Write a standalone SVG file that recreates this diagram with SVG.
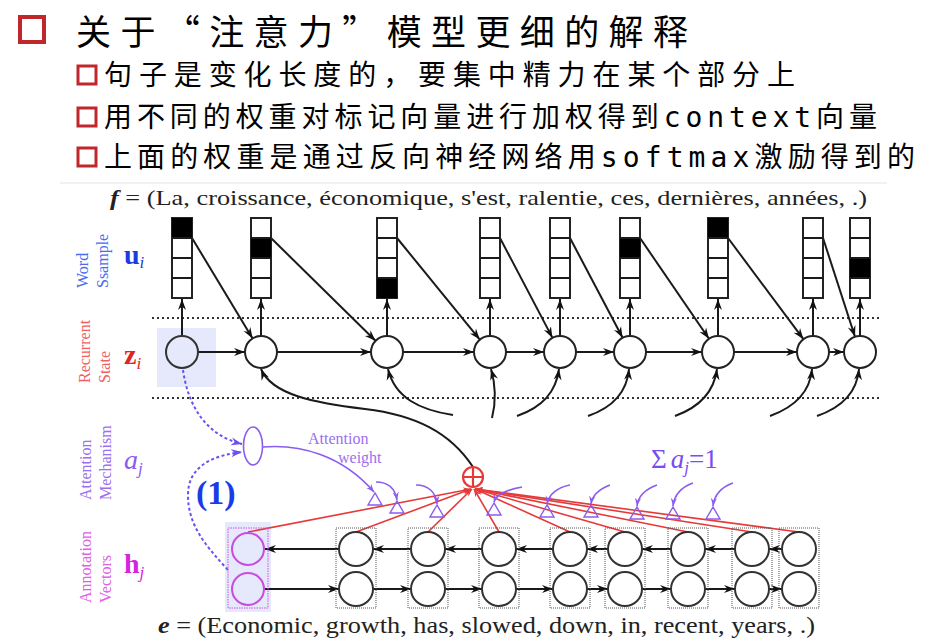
<svg xmlns="http://www.w3.org/2000/svg" width="926" height="642" viewBox="0 0 926 642">
<style>
.cjk{font-family:"Noto Sans CJK SC","Noto Sans",sans-serif;fill:#000}
.mono{font-family:"DejaVu Sans Mono","Liberation Mono",monospace}
.serif{font-family:"Liberation Serif","Times New Roman",serif}
.bul{fill:none;stroke:#c0262b;stroke-width:3}
.cell{fill:#fff;stroke:#222;stroke-width:2}
.fill{fill:#000}
.zc{fill:#fff;stroke:#222;stroke-width:2}
.hc{fill:#fff;stroke:#333;stroke-width:2}
.ln{stroke:#1a1a1a;stroke-width:2;fill:none}
.dot{stroke:#333;stroke-width:2.2;stroke-dasharray:2 3}
.red{stroke:#e63a3a;stroke-width:1.6;fill:none}
.pur{stroke:#8a5cf0;stroke-width:1.6;fill:none}
.dash{stroke:#6a50ee;stroke-width:2;stroke-dasharray:3 2.5;fill:none}
.hbox{fill:none;stroke:#555;stroke-width:1;stroke-dasharray:1 1}
.tri{fill:none;stroke:#8a5cf0;stroke-width:1.4}
</style>
<defs>
<marker id="ab" viewBox="0 0 12 10" refX="11" refY="5" markerWidth="12" markerHeight="10" markerUnits="userSpaceOnUse" orient="auto"><path d="M0,1 L11,5 L0,9 L3.5,5 z" fill="#111"/></marker>
<marker id="ap" viewBox="0 0 10 8" refX="9" refY="4" markerWidth="9" markerHeight="8" markerUnits="userSpaceOnUse" orient="auto"><path d="M0,0.5 L9,4 L0,7.5 L3,4 z" fill="#8a5cf0"/></marker>
<marker id="ad" viewBox="0 0 12 10" refX="11" refY="5" markerWidth="12" markerHeight="10" markerUnits="userSpaceOnUse" orient="auto"><path d="M0,1 L11,5 L0,9 L3.5,5 z" fill="#6a50ee"/></marker>
<marker id="ar" viewBox="0 0 10 8" refX="9" refY="4" markerWidth="9" markerHeight="7" markerUnits="userSpaceOnUse" orient="auto"><path d="M0,0.5 L9,4 L0,7.5 L3,4 z" fill="#e63a3a"/></marker>
</defs>

<g id="title">
<rect class="bul" x="20" y="17" width="24" height="25" style="stroke-width:4"/>
<text class="cjk" x="76" y="45" font-size="35" textLength="612" lengthAdjust="spacing">关于“注意力”模型更细的解释</text>
</g>
<g id="bullets">
<rect class="bul" x="78" y="66" width="18" height="18"/>
<text class="cjk" x="104" y="85" font-size="28" textLength="691" lengthAdjust="spacing">句子是变化长度的，要集中精力在某个部分上</text>
<rect class="bul" x="78" y="108" width="18" height="18"/>
<text class="cjk" x="104" y="127" font-size="28" textLength="773" lengthAdjust="spacing">用不同的权重对标记向量进行加权得到<tspan class="mono">context</tspan>向量</text>
<rect class="bul" x="78" y="148" width="18" height="18"/>
<text class="cjk" x="104" y="167" font-size="28" textLength="811" lengthAdjust="spacing">上面的权重是通过反向神经网络用<tspan class="mono">softmax</tspan>激励得到的</text>
</g>

<line x1="60" y1="183" x2="887" y2="183" stroke="#ececec" stroke-width="1.5"/>
<text id="f-sentence" class="serif" x="110" y="205" font-size="22" fill="#222" textLength="757" lengthAdjust="spacingAndGlyphs"><tspan font-weight="bold" font-style="italic">f</tspan> = (La, croissance, économique, s'est, ralentie, ces, dernières, années, .)</text>

<g id="row-labels" class="serif" font-size="16">
<text transform="translate(88,288) rotate(-90)" fill="#4a6cf0">Word</text>
<text transform="translate(108,288) rotate(-90)" fill="#4a6cf0">Ssample</text>
<text x="124" y="264" font-size="28" font-weight="bold" fill="#1a3ce0">u<tspan font-size="17" font-style="italic" font-weight="normal" dy="4">i</tspan></text>
<text transform="translate(90,383) rotate(-90)" fill="#f06060">Recurrent</text>
<text transform="translate(110,383) rotate(-90)" fill="#f06060">State</text>
<text x="124" y="364" font-size="28" font-weight="bold" fill="#e02424">z<tspan font-size="17" font-style="italic" font-weight="normal" dy="5">i</tspan></text>
<text transform="translate(91,500) rotate(-90)" fill="#9a70f0">Attention</text>
<text transform="translate(111,500) rotate(-90)" fill="#9a70f0">Mechanism</text>
<text x="124" y="469" font-size="28" font-style="italic" fill="#8a5cf0">a<tspan font-size="17" dy="5">j</tspan></text>
<text transform="translate(91,603) rotate(-90)" fill="#e060e8">Annotation</text>
<text transform="translate(111,603) rotate(-90)" fill="#e060e8">Vectors</text>
<text x="124" y="573" font-size="28" font-weight="bold" fill="#d424e0">h<tspan font-size="17" font-style="italic" font-weight="normal" dy="5">j</tspan></text>
</g>

<rect x="157" y="328" width="59" height="59" fill="#e6e8fb"/>
<rect x="225" y="522" width="46" height="90" fill="#e6e8fb"/>

<line class="dot" x1="152" y1="318" x2="882" y2="318"/>
<line class="dot" x1="152" y1="398" x2="882" y2="398"/>

<g id="connectors">
<g class="ln" marker-end="url(#ab)">
<line x1="182" y1="336" x2="182" y2="299"/>
<line x1="261" y1="336" x2="261" y2="299"/>
<line x1="387" y1="336" x2="387" y2="299"/>
<line x1="490" y1="336" x2="490" y2="299"/>
<line x1="560" y1="336" x2="560" y2="299"/>
<line x1="630" y1="336" x2="630" y2="299"/>
<line x1="718" y1="336" x2="718" y2="299"/>
<line x1="813" y1="336" x2="813" y2="299"/>
<line x1="860" y1="336" x2="860" y2="299"/>
<line x1="192" y1="238" x2="252.6" y2="338.4"/>
<line x1="271" y1="238" x2="375.5" y2="340.8"/>
<line x1="397" y1="238" x2="479.8" y2="339.6"/>
<line x1="500" y1="238" x2="552.5" y2="337.9"/>
<line x1="570" y1="238" x2="622.6" y2="337.8"/>
<line x1="640" y1="238" x2="709" y2="338.8"/>
<line x1="728" y1="238" x2="803.4" y2="339.2"/>
<line x1="823" y1="238" x2="855" y2="336.8"/>
<line x1="198" y1="352" x2="245" y2="352"/>
<line x1="277" y1="352" x2="371" y2="352"/>
<line x1="403" y1="352" x2="474" y2="352"/>
<line x1="506" y1="352" x2="544" y2="352"/>
<line x1="576" y1="352" x2="614" y2="352"/>
<line x1="646" y1="352" x2="702" y2="352"/>
<line x1="734" y1="352" x2="797" y2="352"/>
<line x1="829" y1="352" x2="844" y2="352"/>
<path d="M473,467 C450,432 415,415 365,409 C315,403 272,395 261,369"/>
<path d="M453,415 C420,410 395,398 388,369"/>
<path d="M492,418 C496,402 496,386 491,369"/>
<path d="M517,416 C543,407 556,392 559,369"/>
<path d="M588,416 C614,407 627,392 629,369"/>
<path d="M675,416 C700,407 714,392 717,369"/>
<path d="M770,416 C795,407 810,392 812,369"/>
<path d="M817,416 C843,407 857,392 859,369"/>
<line x1="782" y1="549" x2="769" y2="549"/>
<line x1="735" y1="549" x2="705" y2="549"/>
<line x1="671" y1="549" x2="642" y2="549"/>
<line x1="608" y1="549" x2="587" y2="549"/>
<line x1="553" y1="549" x2="516" y2="549"/>
<line x1="482" y1="549" x2="445" y2="549"/>
<line x1="411" y1="549" x2="373" y2="549"/>
<line x1="339" y1="549" x2="265" y2="549"/>
<line x1="265" y1="589" x2="339" y2="589"/>
<line x1="373" y1="589" x2="411" y2="589"/>
<line x1="445" y1="589" x2="482" y2="589"/>
<line x1="516" y1="589" x2="553" y2="589"/>
<line x1="587" y1="589" x2="608" y2="589"/>
<line x1="642" y1="589" x2="671" y2="589"/>
<line x1="705" y1="589" x2="735" y2="589"/>
<line x1="769" y1="589" x2="782" y2="589"/>
</g>
<g class="red" marker-end="url(#ar)">
<line x1="248" y1="532" x2="471" y2="489"/>
<line x1="356" y1="532" x2="471" y2="489"/>
<line x1="428" y1="532" x2="472" y2="489"/>
<line x1="499" y1="532" x2="474" y2="489"/>
<line x1="570" y1="532" x2="475" y2="489"/>
<line x1="625" y1="532" x2="475" y2="489"/>
<line x1="688" y1="532" x2="475" y2="489"/>
<line x1="752" y1="532" x2="475" y2="489"/>
<line x1="799" y1="532" x2="475" y2="489"/>
</g>
<g class="pur" marker-end="url(#ap)">
<path d="M263,447 C300,444 342,455 374,492"/>
<path d="M376,482 C388,482 395,488 397,500"/>
<path d="M416,485 C428,485 436,492 437,504"/>
<path d="M522,487 C505,490 496,495 494,502"/>
<path d="M570,485 C555,488 549,495 547,504"/>
<path d="M610,485 C597,490 592,497 591,504"/>
<path d="M657,485 C643,490 638,498 637,506"/>
<path d="M693,483 C679,488 674,497 673,506"/>
<path d="M733,483 C719,488 714,497 713,506"/>
</g>
<g class="tri">
<path d="M375,493 l-7,12 h14 z"/>
<path d="M397,501 l-7,12 h14 z"/>
<path d="M437,505 l-7,12 h14 z"/>
<path d="M494,503 l-7,12 h14 z"/>
<path d="M547,505 l-7,12 h14 z"/>
<path d="M591,505 l-7,12 h14 z"/>
<path d="M637,507 l-7,12 h14 z"/>
<path d="M673,507 l-7,12 h14 z"/>
<path d="M713,507 l-7,12 h14 z"/>
</g>
<path class="dash" d="M183,370 C188,405 205,435 242,444" marker-end="url(#ad)"/>
<path class="dash" d="M228,570 C205,545 188,525 188,495 C188,465 215,455 242,452" marker-end="url(#ad)"/>
</g>

<g id="word-samples">
<g id="u1"><rect class="cell" x="172" y="218" width="20" height="80"/><rect class="fill" x="172" y="218" width="20" height="20"/><path class="ln" d="M172,238h20M172,258h20M172,278h20"/></g>
<g id="u2"><rect class="cell" x="251" y="218" width="20" height="80"/><rect class="fill" x="251" y="238" width="20" height="20"/><path class="ln" d="M251,238h20M251,258h20M251,278h20"/></g>
<g id="u3"><rect class="cell" x="377" y="218" width="20" height="80"/><rect class="fill" x="377" y="278" width="20" height="20"/><path class="ln" d="M377,238h20M377,258h20M377,278h20"/></g>
<g id="u4"><rect class="cell" x="480" y="218" width="20" height="80"/><path class="ln" d="M480,238h20M480,258h20M480,278h20"/></g>
<g id="u5"><rect class="cell" x="550" y="218" width="20" height="80"/><path class="ln" d="M550,238h20M550,258h20M550,278h20"/></g>
<g id="u6"><rect class="cell" x="620" y="218" width="20" height="80"/><rect class="fill" x="620" y="238" width="20" height="20"/><path class="ln" d="M620,238h20M620,258h20M620,278h20"/></g>
<g id="u7"><rect class="cell" x="708" y="218" width="20" height="80"/><rect class="fill" x="708" y="218" width="20" height="20"/><path class="ln" d="M708,238h20M708,258h20M708,278h20"/></g>
<g id="u8"><rect class="cell" x="803" y="218" width="20" height="80"/><path class="ln" d="M803,238h20M803,258h20M803,278h20"/></g>
<g id="u9"><rect class="cell" x="850" y="218" width="20" height="80"/><rect class="fill" x="850" y="258" width="20" height="20"/><path class="ln" d="M850,238h20M850,258h20M850,278h20"/></g>
</g>

<g id="recurrent-states">
<g id="z1"><circle cx="182" cy="352" r="16" fill="none" stroke="#333" stroke-width="2"/></g>
<g id="z2"><circle class="zc" cx="261" cy="352" r="16"/></g>
<g id="z3"><circle class="zc" cx="387" cy="352" r="16"/></g>
<g id="z4"><circle class="zc" cx="490" cy="352" r="16"/></g>
<g id="z5"><circle class="zc" cx="560" cy="352" r="16"/></g>
<g id="z6"><circle class="zc" cx="630" cy="352" r="16"/></g>
<g id="z7"><circle class="zc" cx="718" cy="352" r="16"/></g>
<g id="z8"><circle class="zc" cx="813" cy="352" r="16"/></g>
<g id="z9"><circle class="zc" cx="860" cy="352" r="16"/></g>
</g>

<g id="attention-node"><ellipse cx="253" cy="446" rx="9.5" ry="19" fill="#fff" stroke="#8a5cf0" stroke-width="1.6"/></g>
<g id="sum-node">
<circle cx="473" cy="477" r="10" fill="#fff" stroke="#e63a3a" stroke-width="2.2"/>
<path d="M463,477h20M473,467v20" stroke="#e63a3a" stroke-width="2.2"/>
</g>

<g id="annotations">
<g id="h1"><rect x="228" y="528" width="40" height="80" fill="none" stroke="#cc55dd" stroke-width="1" stroke-dasharray="1.5 1"/><circle cx="248" cy="549" r="16" fill="none" stroke="#c84ce0" stroke-width="2"/><circle cx="248" cy="589" r="16" fill="none" stroke="#c84ce0" stroke-width="2"/></g>
<g id="h2"><rect class="hbox" x="336" y="528" width="40" height="80"/><circle class="hc" cx="356" cy="549" r="17"/><circle class="hc" cx="356" cy="589" r="17"/></g>
<g id="h3"><rect class="hbox" x="408" y="528" width="40" height="80"/><circle class="hc" cx="428" cy="549" r="17"/><circle class="hc" cx="428" cy="589" r="17"/></g>
<g id="h4"><rect class="hbox" x="479" y="528" width="40" height="80"/><circle class="hc" cx="499" cy="549" r="17"/><circle class="hc" cx="499" cy="589" r="17"/></g>
<g id="h5"><rect class="hbox" x="550" y="528" width="40" height="80"/><circle class="hc" cx="570" cy="549" r="17"/><circle class="hc" cx="570" cy="589" r="17"/></g>
<g id="h6"><rect class="hbox" x="605" y="528" width="40" height="80"/><circle class="hc" cx="625" cy="549" r="17"/><circle class="hc" cx="625" cy="589" r="17"/></g>
<g id="h7"><rect class="hbox" x="668" y="528" width="40" height="80"/><circle class="hc" cx="688" cy="549" r="17"/><circle class="hc" cx="688" cy="589" r="17"/></g>
<g id="h8"><rect class="hbox" x="732" y="528" width="40" height="80"/><circle class="hc" cx="752" cy="549" r="17"/><circle class="hc" cx="752" cy="589" r="17"/></g>
<g id="h9"><rect class="hbox" x="779" y="528" width="40" height="80"/><circle class="hc" cx="799" cy="549" r="17"/><circle class="hc" cx="799" cy="589" r="17"/></g>
</g>

<g id="labels" class="serif">
<text x="308" y="444" font-size="16" fill="#9a70f0">Attention</text>
<text x="338" y="463" font-size="16" fill="#9a70f0">weight</text>
<text x="196" y="504" font-size="34" font-weight="bold" fill="#1a3ce8">(1)</text>
<text x="651" y="468" font-size="27" fill="#7b4cf5">Σ<tspan font-style="italic" dx="4">a</tspan><tspan font-style="italic" font-size="17" dy="5">j</tspan><tspan dy="-5">=1</tspan></text>
</g>

<text id="e-sentence" class="serif" x="158" y="633" font-size="23" fill="#222" textLength="657" lengthAdjust="spacingAndGlyphs"><tspan font-weight="bold" font-style="italic">e</tspan> = (Economic, growth, has, slowed, down, in, recent, years, .)</text>
</svg>
